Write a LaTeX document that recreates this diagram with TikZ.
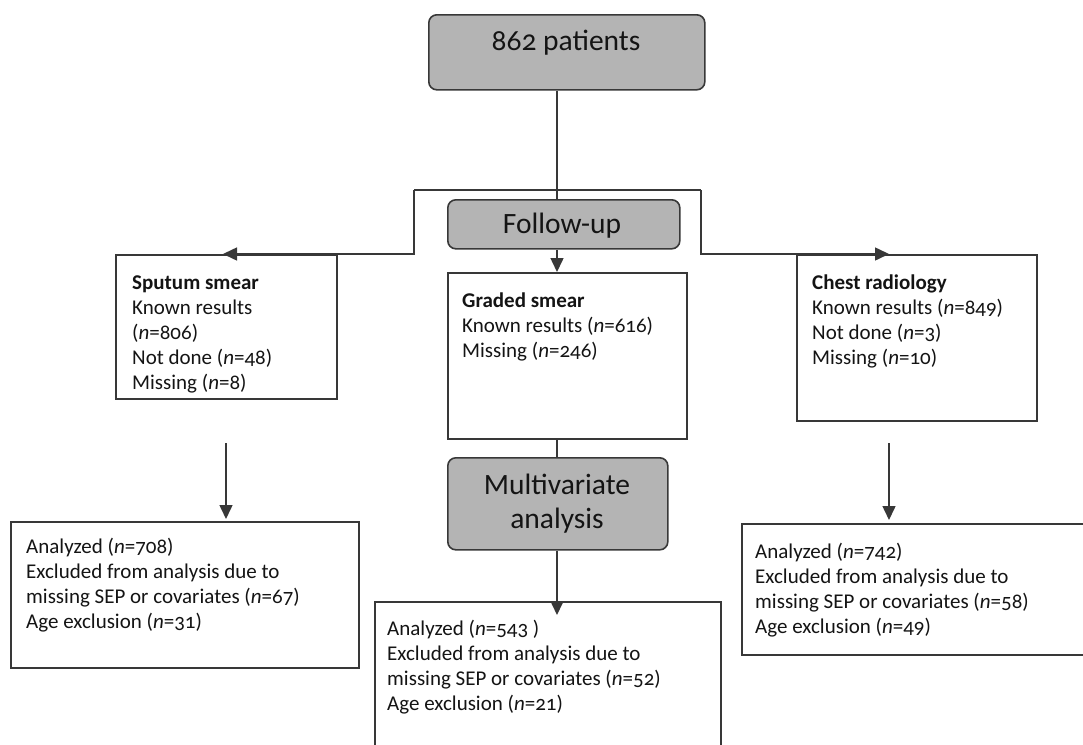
\documentclass[tikz,border=0pt]{standalone}
\usepackage{fontspec}
\setmainfont{Carlito}[Numbers=OldStyle]
\usetikzlibrary{arrows.meta,positioning}
\definecolor{edge}{HTML}{383838}
\definecolor{grayfill}{HTML}{B4B4B4}
\tikzset{
  stagebox/.style={draw=edge,line width=1.6pt,fill=grayfill,rounded corners=8pt,inner sep=0pt,anchor=north west},
  infobox/.style={draw=edge,line width=1.6pt,fill=white,inner sep=0pt,anchor=north west},
  bigtext/.style={font=\fontsize{29.5}{34}\selectfont,inner sep=0pt,align=center,text=black!92},
  boxtext/.style={font=\fontsize{21}{25}\selectfont,inner sep=0pt,align=left,anchor=north west,text=black!92},
  conn/.style={draw=edge,line width=1.5pt},
  arr/.style={conn,-{Triangle[length=14pt,width=13pt]}},
}
\begin{document}
\begin{tikzpicture}[x=1pt,y=-1pt]
\useasboundingbox (0,0) rectangle (1083,744);
\clip (0,0) rectangle (1083,744);
\coordinate (spine) at (557,0);

% boxes
\node[stagebox,minimum width=276pt,minimum height=75pt] (title) at (428,14) {};
\node[bigtext] (titletxt) at (566,43) {862 patients};

\node[stagebox,minimum width=232pt,minimum height=49pt] (followup) at (447,199) {};
\node[bigtext] (followtxt) at (562,226) {Follow-up};

\node[infobox,minimum width=221pt,minimum height=144pt] (sputum) at (115,254) {};
\node[boxtext] (sputumtxt) at (132,276) {\textbf{Sputum smear}\\Known results\\(\textit{n}=806)\\Not done (\textit{n}=48)\\Missing (\textit{n}=8)};

\node[infobox,minimum width=239pt,minimum height=166pt] (graded) at (447,272) {};
\node[boxtext] (gradedtxt) at (462,293) {\textbf{Graded smear}\\Known results (\textit{n}=616)\\Missing (\textit{n}=246)};

\node[infobox,minimum width=240pt,minimum height=166pt] (chest) at (796,254) {};
\node[boxtext] (chesttxt) at (812,275) {\textbf{Chest radiology}\\Known results (\textit{n}=849)\\Not done (\textit{n}=3)\\Missing (\textit{n}=10)};

\node[stagebox,minimum width=220pt,minimum height=92pt] (multi) at (447,457) {};
\node[bigtext] (multitxt) at (557,504) {Multivariate\\analysis};

\node[infobox,minimum width=348pt,minimum height=146pt] (botleft) at (10,521) {};
\node[boxtext] (botlefttxt) at (26,538) {Analyzed (\textit{n}=708)\\Excluded from analysis due to\\missing SEP or covariates (\textit{n}=67)\\Age exclusion (\textit{n}=31)};

\node[infobox,minimum width=346pt,minimum height=170pt] (botmid) at (374,601) {};
\node[boxtext] (botmidtxt) at (387,620) {Analyzed (\textit{n}=543 )\\Excluded from analysis due to\\missing SEP or covariates (\textit{n}=52)\\Age exclusion (\textit{n}=21)};

\node[infobox,minimum width=360pt,minimum height=131pt] (botright) at (741,523) {};
\node[boxtext] (botrighttxt) at (755,543) {Analyzed (\textit{n}=742)\\Excluded from analysis due to\\missing SEP or covariates (\textit{n}=58)\\Age exclusion (\textit{n}=49)};

% connectors
\coordinate (brL) at (414,190);
\coordinate (brR) at (701,190);
\coordinate (leftstart) at (226,443);
\coordinate (rightstart) at (889,443);

\draw[conn] (title.south -| spine) -- (followup.north -| spine);
\draw[conn] (brL) -- (brR);
\draw[arr] (brL) -- (brL |- sputum.north) -- ([xshift=-3pt]leftstart |- sputum.north);
\draw[arr] (brR) -- (brR |- chest.north) -- (rightstart |- chest.north);
\draw[arr] (followup.south -| spine) -- (graded.north -| spine);
\draw[conn] (graded.south -| spine) -- (multi.north -| spine);
\draw[arr] (multi.south -| spine) -- ([yshift=-14pt]botmid.north -| spine);
\draw[arr] (leftstart) -- ([yshift=2pt]botleft.north -| leftstart);
\draw[arr] (rightstart) -- ([yshift=3pt]botright.north -| rightstart);
\end{tikzpicture}
\end{document}
